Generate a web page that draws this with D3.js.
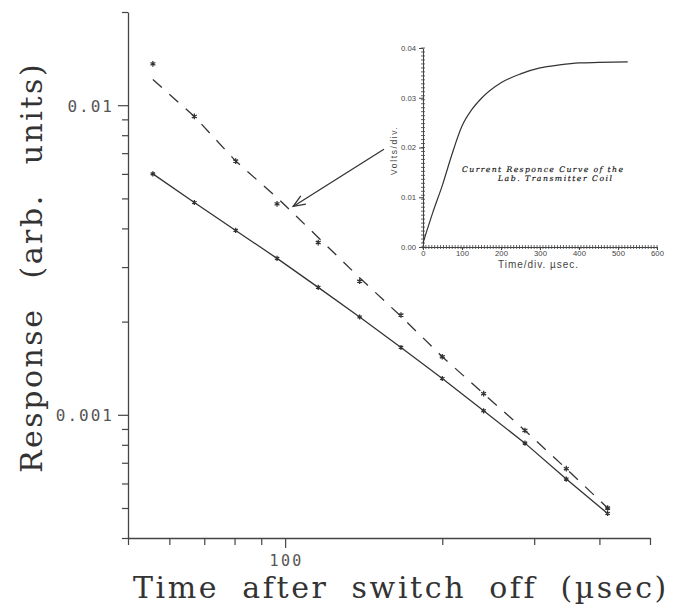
<!DOCTYPE html>
<html>
<head>
<meta charset="utf-8">
<script src="https://cdn.jsdelivr.net/npm/d3@7"></script>
<style>
  html, body { margin: 0; padding: 0; background: #fff; }
  svg { display: block; }
</style>
</head>
<body>
<svg id="chart" width="675" height="609"></svg>
<script>
// ---------------- DATA ----------------
// Main log-log plot
const times = [55.8, 67.0, 80.4, 96.5, 115.7, 138.9, 166.7, 200, 240, 288, 345.6, 414.7];
const solidResponse = [0.0060, 0.00485, 0.00394, 0.00320, 0.00258, 0.00207, 0.00165, 0.00131, 0.00103, 0.00081, 0.00062, 0.00048];
const dashedResponse = [0.0136, 0.0092, 0.0066, 0.0048, 0.0036, 0.0027, 0.0021, 0.00154, 0.00117, 0.00089, 0.00067, 0.00050];
const dashedFit = [0.0121, 0.0092, 0.0066, 0.00503, 0.00374, 0.00277, 0.00208, 0.00154, 0.00117, 0.00089, 0.00067, 0.00050];

const xDomain = [50, 500];
const yDomain = [0.0004, 0.02];
const xTicks = [50, 60, 70, 80, 90, 100, 200, 300, 400, 500];
const xLabeled = [100];
const yTicks = [0.02, 0.01, 0.009, 0.008, 0.007, 0.006, 0.005, 0.004, 0.003, 0.002,
                0.001, 0.0009, 0.0008, 0.0007, 0.0006, 0.0005, 0.0004];
const yLabeled = [0.01, 0.001];
const xTitle = "Time after switch off (\u00b5sec)";
const yTitle = "Response (arb. units)";

// Arrow annotation (data units): from inset towards dashed curve
const arrowFrom = [154.6, 0.00721];
const arrowTo = [103.6, 0.00471];

// Inset: current response curve
const insetT = [0, 25, 50, 75, 100, 125, 150, 200, 250, 300, 350, 400, 450, 525];
const insetV = [0.0008, 0.0069, 0.0125, 0.0188, 0.0243, 0.0276, 0.0299, 0.0330, 0.0348, 0.0360, 0.0366, 0.0370, 0.0371, 0.0372];
const insetXDomain = [0, 600];
const insetYDomain = [0, 0.04];
const insetXLabels = [0, 100, 200, 300, 400, 500, 600];
const insetYLabels = [0, 0.01, 0.02, 0.03, 0.04];
const insetXTitle = "Time/div. \u00b5sec.";
const insetYTitle = "Volts/div.";
const insetCaption = ["Current Responce Curve of the", "Lab. Transmitter Coil"];

// ---------------- DRAW ----------------
const svg = d3.select("#chart");
svg.append("rect").attr("width", 675).attr("height", 609).attr("fill", "#fff");
const ink = "#333";
const serif = "DejaVu Serif, serif";
const mono = "DejaVu Sans Mono, monospace";

const x = d3.scaleLog().domain(xDomain).range([128, 650]);
const y = d3.scaleLog().domain(yDomain).range([538, 12]);

// y axis
const yAxisG = svg.append("g").attr("transform", "translate(128,0)")
  .call(d3.axisLeft(y).tickValues(yTicks).tickSize(6).tickSizeOuter(0)
    .tickFormat(d => yLabeled.includes(d) ? String(d) : ""));
yAxisG.select(".domain").attr("stroke", "#444").attr("stroke-width", 1.3);
yAxisG.selectAll(".tick line").attr("stroke", "#444").attr("stroke-width", 1.2)
  .attr("x2", d => yLabeled.includes(d) ? -10 : -6);
yAxisG.selectAll(".tick text")
  .attr("x", -14).attr("dy", "0.38em")
  .attr("font-family", mono).attr("font-size", 16)
  .attr("letter-spacing", 2).attr("fill", "#555");

// x axis
const xAxisG = svg.append("g").attr("transform", "translate(0,538)")
  .call(d3.axisBottom(x).tickValues(xTicks).tickSize(7).tickSizeOuter(0)
    .tickFormat(d => xLabeled.includes(d) ? String(d) : ""));
xAxisG.select(".domain").attr("stroke", "#444").attr("stroke-width", 1.3);
xAxisG.selectAll(".tick line").attr("stroke", "#444").attr("stroke-width", 1.2)
  .attr("y2", d => xLabeled.includes(d) ? 10 : 7);
xAxisG.selectAll(".tick text")
  .attr("y", 28).attr("dy", 0).attr("dx", 1)
  .attr("font-family", mono).attr("font-size", 15)
  .attr("letter-spacing", 2.4).attr("fill", "#555");

// titles
svg.append("text")
  .attr("transform", "translate(42,473) rotate(-90)")
  .attr("font-family", serif).attr("font-size", 30)
  .attr("letter-spacing", 2.5).attr("word-spacing", 17)
  .attr("fill", ink)
  .text(yTitle);
svg.append("text")
  .attr("x", 133).attr("y", 598)
  .attr("font-family", serif).attr("font-size", 30)
  .attr("letter-spacing", 2.6).attr("word-spacing", 11)
  .attr("fill", ink)
  .text(xTitle);

// series
const pts = (vals) => times.map((t, i) => [t, vals[i]]);
const line = d3.line().x(d => x(d[0])).y(d => y(d[1]));

svg.append("path").datum(pts(solidResponse))
  .attr("d", line).attr("fill", "none").attr("stroke", ink).attr("stroke-width", 1.3);
svg.append("path").datum(pts(dashedFit))
  .attr("d", line).attr("fill", "none").attr("stroke", ink).attr("stroke-width", 1.3)
  .attr("stroke-dasharray", "12,10");

const star = d3.symbol().type(d3.symbolAsterisk);
svg.append("g").selectAll("path").data(pts(solidResponse)).join("path")
  .attr("transform", d => `translate(${x(d[0])},${y(d[1])})`)
  .attr("d", star.size(18)).attr("fill", "none").attr("stroke", ink).attr("stroke-width", 1.3);
svg.append("g").selectAll("path").data(pts(dashedResponse)).join("path")
  .attr("transform", d => `translate(${x(d[0])},${y(d[1])})`)
  .attr("d", star.size(22)).attr("fill", "none").attr("stroke", ink).attr("stroke-width", 1.3);

// arrow
const ax0 = x(arrowFrom[0]), ay0 = y(arrowFrom[1]);
const ax1 = x(arrowTo[0]), ay1 = y(arrowTo[1]);
svg.append("line").attr("x1", ax0).attr("y1", ay0).attr("x2", ax1).attr("y2", ay1)
  .attr("stroke", ink).attr("stroke-width", 1.3);
const ang = Math.atan2(ay0 - ay1, ax0 - ax1);
const hl = 13, ha = 0.38;
svg.append("path")
  .attr("d", `M${ax1 + hl * Math.cos(ang + ha)},${ay1 + hl * Math.sin(ang + ha)} L${ax1},${ay1} L${ax1 + hl * Math.cos(ang - ha)},${ay1 + hl * Math.sin(ang - ha)}`)
  .attr("fill", "none").attr("stroke", ink).attr("stroke-width", 1.3);

// ---------------- INSET ----------------
const ix = d3.scaleLinear().domain(insetXDomain).range([423, 657]);
const iy = d3.scaleLinear().domain(insetYDomain).range([247, 48]);
const inset = svg.append("g");
const sansFont = "Liberation Sans, Arial, sans-serif";

// minor ticks
const iyMinor = d3.range(0, 0.0401, 0.0008);
const ixMinor = d3.range(0, 601, 7.5);
inset.append("g").selectAll("line").data(iyMinor).join("line")
  .attr("x1", 421).attr("x2", 425).attr("y1", d => iy(d)).attr("y2", d => iy(d))
  .attr("stroke", "#555").attr("stroke-width", 0.9);
inset.append("g").selectAll("line").data(ixMinor).join("line")
  .attr("y1", 245).attr("y2", 249).attr("x1", d => ix(d)).attr("x2", d => ix(d))
  .attr("stroke", "#555").attr("stroke-width", 0.9);

const iyAxis = inset.append("g").attr("transform", "translate(423,0)")
  .call(d3.axisLeft(iy).tickValues(insetYLabels).tickSize(4).tickSizeOuter(0).tickPadding(3)
    .tickFormat(d3.format(".2f")));
const ixAxis = inset.append("g").attr("transform", "translate(0,247)")
  .call(d3.axisBottom(ix).tickValues(insetXLabels).tickSize(3).tickSizeOuter(0).tickPadding(1)
    .tickFormat(d3.format("d")));
[iyAxis, ixAxis].forEach(g => {
  g.select(".domain").attr("stroke", "#444").attr("stroke-width", 1.1);
  g.selectAll(".tick line").attr("stroke", "#444").attr("stroke-width", 1);
  g.selectAll(".tick text").attr("font-family", sansFont).attr("font-size", 7.7).attr("fill", "#444");
});

inset.append("path").datum(insetT.map((t, i) => [t, insetV[i]]))
  .attr("d", d3.line().x(d => ix(d[0])).y(d => iy(d[1])).curve(d3.curveMonotoneX))
  .attr("fill", "none").attr("stroke", ink).attr("stroke-width", 1.2);

inset.append("text").attr("x", 538).attr("y", 268).attr("text-anchor", "middle")
  .attr("font-family", sansFont).attr("font-size", 10).attr("fill", "#444")
  .attr("textLength", 80).attr("lengthAdjust", "spacing").text(insetXTitle);
inset.append("text").attr("transform", "translate(397,151) rotate(-90)").attr("text-anchor", "middle")
  .attr("font-family", sansFont).attr("font-size", 8.5).attr("fill", "#444")
  .attr("textLength", 48).attr("lengthAdjust", "spacing").text(insetYTitle);

inset.append("text").attr("x", 462).attr("y", 171.5)
  .attr("font-family", serif).attr("font-style", "italic").attr("font-size", 7.7)
  .attr("fill", "#1a1a1a").attr("stroke", "#1a1a1a").attr("stroke-width", 0.2)
  .attr("textLength", 161).attr("lengthAdjust", "spacing").text(insetCaption[0]);
inset.append("text").attr("x", 498).attr("y", 180.5)
  .attr("font-family", serif).attr("font-style", "italic").attr("font-size", 7.7)
  .attr("fill", "#1a1a1a").attr("stroke", "#1a1a1a").attr("stroke-width", 0.2)
  .attr("textLength", 114).attr("lengthAdjust", "spacing").text(insetCaption[1]);
</script>
</body>
</html>
